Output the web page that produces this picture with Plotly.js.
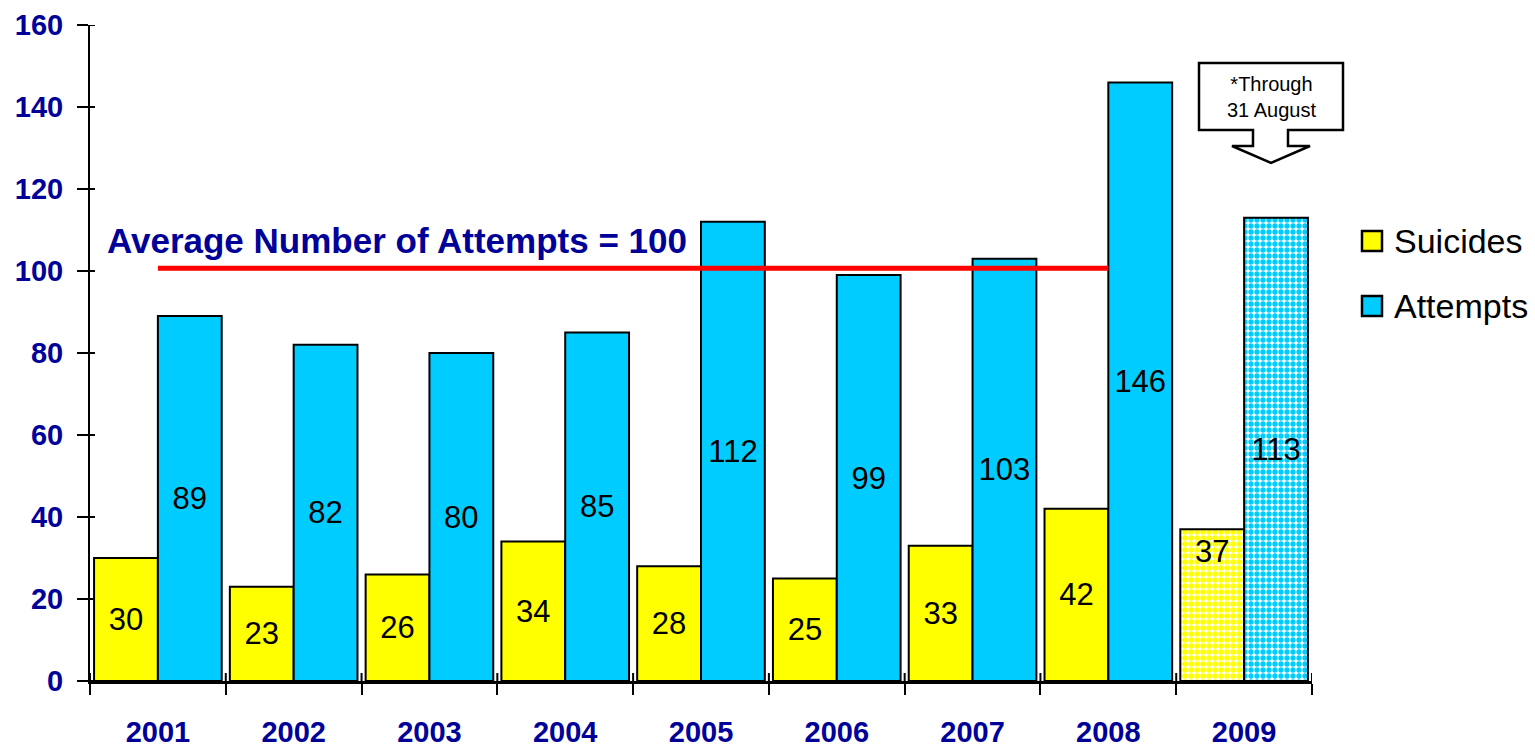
<!DOCTYPE html>
<html><head><meta charset="utf-8">
<script src="https://cdn.plot.ly/plotly-3.0.1.min.js"></script>
<style>html,body{margin:0;padding:0;background:#fff}#chart{width:1535px;height:748px}</style>
</head><body><div id="chart"></div>
<script>
// ---- data ----
const years = ['2001','2002','2003','2004','2005','2006','2007','2008','2009'];
const suicides = [30, 23, 26, 34, 28, 25, 33, 42, 37];
const attempts = [89, 82, 80, 85, 112, 99, 103, 146, 113];
const seriesNames = ['Suicides', 'Attempts'];
const partialYear = '2009';
const averageLabel = 'Average Number of Attempts = 100';
const averageLevel = 100.7;
const averageSpan = ['2001', '2008'];
const noteLines = ['*Through', '31 August'];
const yTicks = [0, 20, 40, 60, 80, 100, 120, 140, 160];

// ---- style ----
const YELLOW = '#FFFF00', CYAN = '#00CCFF', NAVY = '#000099';
const FONT = 'Liberation Sans, Arial, sans-serif';
const L = 90, R = 1312, T = 25, B = 681, W = 1535, H = 748;
const px = v => (v - L) / (R - L);
const py = v => (B - v) / (B - T);

const isPartial = years.map(y => y === partialYear);
function patternFor(color) {
  return {
    shape: isPartial.map(p => p ? '.' : ''),
    fgcolor: color, bgcolor: '#ffffff', size: 6, solidity: 0.62
  };
}

const suicideText = suicides.map((v, i) => isPartial[i] ? '' : String(v));
const attemptText = attempts.map(v => String(v));

const traces = [
  {
    type: 'bar', name: seriesNames[0], x: years, y: suicides,
    marker: { color: YELLOW, line: { color: '#000', width: 2 }, pattern: patternFor(YELLOW) },
    text: suicideText, textposition: 'inside', insidetextanchor: 'middle', textangle: 0,
    textfont: { family: FONT, size: 31, color: '#000' }, hoverinfo: 'x+y'
  },
  {
    type: 'bar', name: seriesNames[1], x: years, y: attempts,
    marker: { color: CYAN, line: { color: '#000', width: 2 }, pattern: patternFor(CYAN) },
    text: attemptText, textposition: 'inside', insidetextanchor: 'middle', textangle: 0,
    textfont: { family: FONT, size: 31, color: '#000' }, hoverinfo: 'x+y'
  },
  {
    type: 'scatter', mode: 'lines', x: averageSpan, y: [averageLevel, averageLevel],
    line: { color: '#FF0000', width: 5 }, hoverinfo: 'skip', showlegend: false
  }
];

const catW = (R - L) / years.length;
const bargap = 0.06;
const barW = catW * (1 - bargap) / 2;

const shapes = [];
const annotations = [];

// inside parts of crossing ticks
years.concat(['end']).forEach((_, k) => {
  shapes.push({ type: 'line', xref: 'x', x0: k - 0.5, x1: k - 0.5, yref: 'paper', ysizemode: 'pixel',
    yanchor: 0, y0: 0, y1: 8, line: { color: '#000', width: 2 }, layer: 'above' });
});
yTicks.forEach(v => {
  shapes.push({ type: 'line', yref: 'y', y0: v, y1: v, xref: 'paper', xsizemode: 'pixel',
    xanchor: 0, x0: 0, x1: 5, line: { color: '#000', width: 2 }, layer: 'above' });
});

// callout box with arrow
const pts = [[1199,63],[1343,63],[1343,130],[1288,130],[1288,146],[1310,146],[1271,163],[1232,146],[1253,146],[1253,130],[1199,130]];
shapes.push({
  type: 'path', xref: 'paper', yref: 'paper',
  path: 'M' + pts.map(p => px(p[0]).toFixed(5) + ',' + py(p[1]).toFixed(5)).join('L') + 'Z',
  fillcolor: '#fff', line: { color: '#000', width: 2.5 }, layer: 'above'
});
annotations.push({
  xref: 'paper', yref: 'paper', x: px(1271), y: py(97), xanchor: 'center', yanchor: 'middle',
  text: noteLines.join('<br>'), showarrow: false, align: 'center',
  font: { family: FONT, size: 20, color: '#000' }
});

// label for partial-year suicides (placed near top of bar)
const pi = years.indexOf(partialYear);
annotations.push({
  xref: 'x', yref: 'y', x: pi, y: suicides[pi], xanchor: 'center', yanchor: 'top',
  xshift: -barW / 2, yshift: -3, text: String(suicides[pi]), showarrow: false,
  font: { family: FONT, size: 31, color: '#000' }
});

// average label
annotations.push({
  xref: 'paper', yref: 'paper', x: px(105), y: py(240), xanchor: 'left', yanchor: 'middle',
  text: '<b>' + averageLabel + '</b>', showarrow: false,
  font: { family: FONT, size: 35, color: NAVY }
});

// manual legend
const legendItems = [[seriesNames[0], YELLOW, 241], [seriesNames[1], CYAN, 306]];
legendItems.forEach(([name, color, cy]) => {
  shapes.push({ type: 'rect', xref: 'paper', yref: 'paper', x0: px(1362), x1: px(1382),
    y0: py(cy - 10), y1: py(cy + 10), fillcolor: color, line: { color: '#000', width: 2.5 } });
  annotations.push({ xref: 'paper', yref: 'paper', x: px(1392), y: py(cy), xanchor: 'left', yanchor: 'middle',
    text: name, showarrow: false, font: { family: FONT, size: 34, color: '#000' } });
});

const layout = {
  width: W, height: H,
  margin: { l: L, r: W - R, t: T, b: H - B, pad: 0 },
  paper_bgcolor: '#fff', plot_bgcolor: '#fff',
  barmode: 'group', bargap: bargap, bargroupgap: 0,
  showlegend: false,
  font: { family: FONT },
  xaxis: {
    type: 'category', range: [-0.5, years.length - 0.5], tickson: 'boundaries',
    ticks: 'outside', ticklen: 11, tickwidth: 2, tickcolor: '#000',
    showline: true, linewidth: 3, linecolor: '#000', showgrid: false, zeroline: false,
    tickfont: { family: FONT, size: 29, color: NAVY, weight: 'bold' }, ticklabelstandoff: 23
  },
  yaxis: {
    range: [0, 160], tickvals: yTicks, ticktext: yTicks.map(String),
    ticks: 'outside', ticklen: 11, tickwidth: 2, tickcolor: '#000',
    showline: true, linewidth: 2, linecolor: '#000', showgrid: false, zeroline: false,
    tickfont: { family: FONT, size: 29, color: NAVY, weight: 'bold' }, ticklabelstandoff: 8
  },
  shapes: shapes,
  annotations: annotations
};

Plotly.newPlot('chart', traces, layout, { displayModeBar: false, staticPlot: true });
</script>
</body></html>
